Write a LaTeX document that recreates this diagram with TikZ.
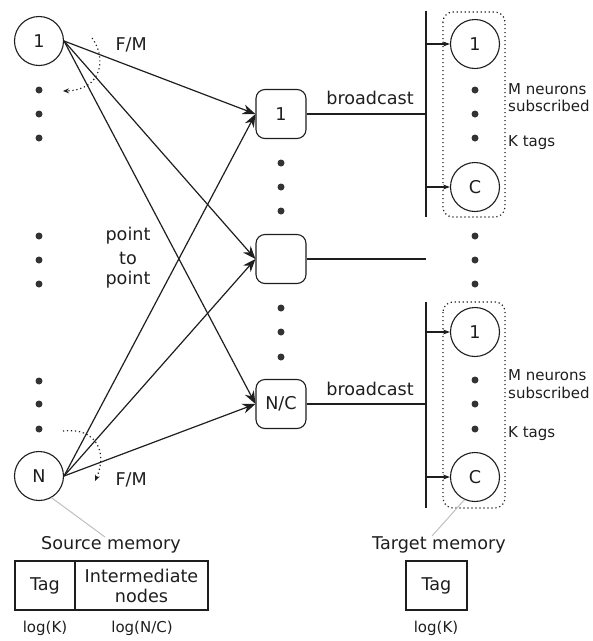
\documentclass[tikz,border=0pt]{standalone}
\usepackage{fontspec}
\setmainfont{DejaVu Sans}
\usetikzlibrary{arrows.meta}
\definecolor{ink}{HTML}{1E1E1E}
\definecolor{dotink}{HTML}{333333}
\begin{document}
\begin{tikzpicture}[x=1pt,y=-1pt,
  every node/.style={font=\fontsize{17.6}{21}\selectfont, text=ink},
  neuron/.style={draw=ink, circle, line width=1.1pt, minimum size=49pt, inner sep=0pt},
  router/.style={draw=ink, rounded corners=9pt, line width=1.1pt, minimum width=50pt, minimum height=49pt, inner sep=0pt},
  cell/.style={draw=ink, line width=1.1pt, minimum height=49pt, inner sep=0pt, align=center},
  wire/.style={draw=ink, line width=1.2pt},
  bigarrow/.style={wire, -{Stealth[length=13pt,width=10pt]}},
  tinyarrow/.style={wire, -{Stealth[length=7pt,width=5pt]}},
  bus/.style={draw=ink, line width=1.5pt},
  dotline/.style={draw=ink, line width=1.2pt, dash pattern={on 1.2pt off 2.8pt}},
  leader/.style={draw=black!25, line width=1pt},
  small/.style={font=\fontsize{15}{18}\selectfont},
  bullet/.style={fill=dotink, circle, inner sep=0pt, minimum size=7pt}
]
\useasboundingbox (0,0) rectangle (593,641);

% source neurons
\node[neuron] (s1) at (39,41) {1};
\node[neuron] (sN) at (39,476) {N};
\foreach \y [count=\i] in {90,114,138,236,260,284,381,404,429}
  \node[bullet] (sd\i) at (39,\y) {};

% intermediate routers
\node[router] (m1) at (281,114) {1};
\node[router] (m2) at (281,259) {};
\node[router] (m3) at (281,404) {N/C};
\foreach \y [count=\i] in {163,187,211,308,332,357}
  \node[bullet] (md\i) at (281,\y) {};

% point-to-point links
\foreach \m in {m1,m2,m3} {
  \draw[bigarrow] (s1.east) -- (\m.west);
  \draw[bigarrow] (sN.east) -- (\m.west);
}
\node at (128,236) {point};
\node at (128,258) {to};
\node at (128,280) {point};

% fan-out indicators
\node[anchor=base west] (fm1) at (112,50) {F/M};
\node[anchor=base west] (fm2) at (112,485) {F/M};
\draw[dotline, -{Stealth[length=6pt,width=5pt]}] (92,38) .. controls (107,58) and (102,90) .. (63,91);
\draw[dotline, -{Stealth[length=6pt,width=5pt]}] (63,431) .. controls (96,427) and (108,452) .. (95,481);

% broadcast buses
\coordinate (bus1top) at (426,11);
\coordinate (bus1bot) at (426,217);
\coordinate (bus2top) at (426,302);
\coordinate (bus2bot) at (426,508);
\coordinate (j1) at (426,114);
\coordinate (j2) at (426,259);
\coordinate (j3) at (426,404);
\draw[bus] (bus1top) -- (bus1bot);
\draw[bus] (bus2top) -- (bus2bot);
\draw[wire] (m1.east) -- (j1);
\draw[wire] (m2.east) -- (j2);
\draw[wire] (m3.east) -- (j3);
\node[anchor=base] (bc1) at (370,104) {broadcast};
\node[anchor=base] (bc2) at (370,395) {broadcast};

% target neurons
\node[neuron] (t1a) at (475,44) {1};
\node[neuron] (tCa) at (475,187) {C};
\node[neuron] (t1b) at (475,332) {1};
\node[neuron] (tCb) at (475,477) {C};
\foreach \y [count=\i] in {90,114,138,236,260,284,380,404,429}
  \node[bullet] (td\i) at (475,\y) {};
\coordinate (k1) at (426,44);
\coordinate (k2) at (426,187);
\coordinate (k3) at (426,332);
\coordinate (k4) at (426,477);
\draw[tinyarrow] (k1) -- (t1a.west);
\draw[tinyarrow] (k2) -- (tCa.west);
\draw[tinyarrow] (k3) -- (t1b.west);
\draw[tinyarrow] (k4) -- (tCb.west);

% subscription groups
\draw[dotline, rounded corners=10pt] (443,12) rectangle (505,217);
\draw[dotline, rounded corners=10pt] (443,302) rectangle (505,508);
\node[small, anchor=base west, inner sep=0pt] at (508,94) {M neurons};
\node[small, anchor=base west, inner sep=0pt] at (508,111) {subscribed};
\node[small, anchor=base west, inner sep=0pt] at (508,146) {K tags};
\node[small, anchor=base west, inner sep=0pt] at (508,380) {M neurons};
\node[small, anchor=base west, inner sep=0pt] at (508,398) {subscribed};
\node[small, anchor=base west, inner sep=0pt] at (508,437) {K tags};

% memory layouts
\coordinate (srcmem) at (105,537);
\coordinate (tgtmem) at (432,536);
\draw[leader] (sN.-60) -- (srcmem);
\draw[leader] (tCb.-115) -- (tgtmem);
\node (srclabel) at (111,545) {Source memory};
\node (tgtlabel) at (439,545) {Target memory};
\node[cell, minimum width=60pt] (stag) at (45,585.5) {Tag};
\node[cell, minimum width=133pt] (snodes) at (141.5,585.5) {Intermediate\\[-1pt]nodes};
\node[cell, minimum width=61pt] (ttag) at (436.5,585.5) {Tag};
\node[small] (lk1) at (45,628) {log(K)};
\node[small] (lnc) at (142,628) {log(N/C)};
\node[small] (lk2) at (436,628) {log(K)};
\end{tikzpicture}
\end{document}
